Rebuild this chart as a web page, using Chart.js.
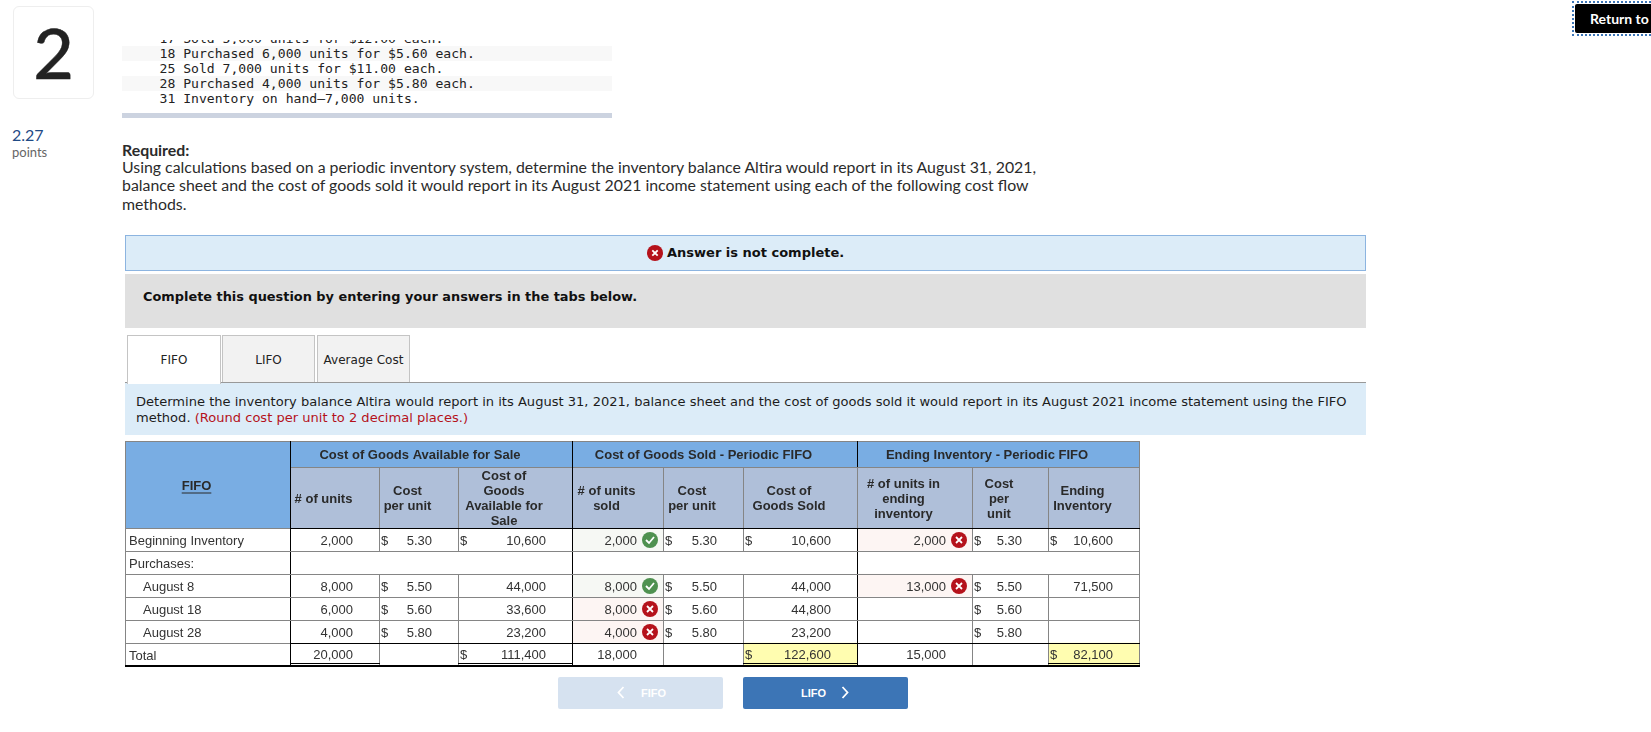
<!DOCTYPE html>
<html>
<head>
<meta charset="utf-8">
<title>FIFO</title>
<script src="https://cdn.jsdelivr.net/npm/chart.js@4"></script>
<style>
html, body { margin: 0; padding: 0; background: #fff; width: 1651px; height: 732px; overflow: hidden; }
.abs { position: absolute; white-space: nowrap; }
.box { position: absolute; box-sizing: border-box; }
.mono { font: 13.1px/15px "DejaVu Sans Mono", monospace; color: #222; left: 159.5px; }
.lato { font-family: Lato, sans-serif; color: #2b2b2b; font-size: 15.87px; line-height: 18px; left: 122px; }
.dv { font-family: "DejaVu Sans", sans-serif; color: #1c1c1c; font-size: 13.06px; line-height: 16px; }
.tab { position: absolute; box-sizing: border-box; top: 335px; height: 48px; border: 1px solid #c4c4c4; background: #f2f2f2;
  font: 12px/49px "DejaVu Sans", sans-serif; color: #222; text-align: center; }
.btn { position: absolute; top: 677px; height: 32px; border-radius: 2px; color: #fff; font: bold 11px/32px "Liberation Sans", sans-serif; }
canvas { position: absolute; left: 125px; }
</style>
</head>
<body>
<div class="box" style="left:13px;top:6px;width:81px;height:93px;border:1px solid #eee;border-radius:6px"></div>
<div class="abs" style="left:13px;width:81px;top:6px;text-align:center;font:500 70px/93px Lato,sans-serif;color:#222;-webkit-text-stroke:0.4px #222">2</div>
<div class="abs" style="left:12px;top:126px;font:16px/18px Lato,sans-serif;color:#1f4a85">2.27</div>
<div class="abs" style="left:12px;top:144px;font:13px/16px Lato,sans-serif;color:#666">points</div>

<div class="box" style="left:122px;top:46px;width:490px;height:15px;background:#f8f8f8"></div>
<div class="box" style="left:122px;top:76px;width:490px;height:15px;background:#f8f8f8"></div>
<div class="box" style="left:122px;top:113px;width:490px;height:5px;background:#ccd3e0"></div>
<div class="box" style="left:122px;top:40px;width:490px;height:4px;overflow:hidden">
  <div class="abs mono" style="left:37.5px;top:-9px">17 Sold 5,000 units for $12.00 each.</div>
</div>
<div class="abs mono" style="top:46px">18 Purchased 6,000 units for $5.60 each.</div>
<div class="abs mono" style="top:61px">25 Sold 7,000 units for $11.00 each.</div>
<div class="abs mono" style="top:76px">28 Purchased 4,000 units for $5.80 each.</div>
<div class="abs mono" style="top:91px">31 Inventory on hand–7,000 units.</div>

<div class="abs lato" style="top:141px;font-weight:700">Required:</div>
<div class="abs lato" style="top:158px">Using calculations based on a periodic inventory system, determine the inventory balance Altira would report in its August 31, 2021,</div>
<div class="abs lato" style="top:176px">balance sheet and the cost of goods sold it would report in its August 2021 income statement using each of the following cost flow</div>
<div class="abs lato" style="top:195px">methods.</div>

<div class="box" style="left:125px;top:235px;width:1241px;height:36px;background:#dcecf8;border:1px solid #8cb4e0"></div>
<svg class="abs" style="left:647px;top:245px" width="16" height="16" viewBox="0 0 16 16"><circle cx="8" cy="8" r="8" fill="#b5121b"/><path d="M5.3 5.3 10.7 10.7M10.7 5.3 5.3 10.7" stroke="#fff" stroke-width="1.8"/></svg>
<div class="abs dv" style="left:667px;top:245px;font-weight:700;font-size:13px;color:#111">Answer is not complete.</div>
<div class="box" style="left:125px;top:274px;width:1241px;height:54px;background:#e0e0e0"></div>
<div class="abs dv" style="left:143px;top:289px;font-weight:700;font-size:12.9px;color:#111">Complete this question by entering your answers in the tabs below.</div>

<div class="tab" style="left:222px;width:93px">LIFO</div>
<div class="tab" style="left:317px;width:93px">Average Cost</div>
<div class="box" style="left:125px;top:382px;width:1241px;height:53px;background:#dcecf8;border-top:1px solid #999"></div>
<div class="tab" style="left:127px;width:94px;height:49px;background:#fff;border-bottom:0;z-index:2">FIFO</div>
<div class="abs dv" style="left:136px;top:394px">Determine the inventory balance Altira would report in its August 31, 2021, balance sheet and the cost of goods sold it would report in its August 2021 income statement using the FIFO</div>
<div class="abs dv" style="left:136px;top:410px">method. <span style="color:#b5121b">(Round cost per unit to 2 decimal places.)</span></div>

<canvas id="groupHead" width="1016" height="28" style="top:441px"></canvas>
<canvas id="columnHead" width="1016" height="63" style="top:467px"></canvas>
<canvas id="tableBody" width="1016" height="140" style="top:528px"></canvas>

<div class="btn" style="left:558px;width:165px;background:#d6e2f0">
  <svg class="abs" style="left:59px;top:9px" width="8" height="13" viewBox="0 0 8 13"><path d="M6.5 1 1.5 6.5 6.5 12" fill="none" stroke="#fff" stroke-width="1.8"/></svg>
  <span class="abs" style="left:83px">FIFO</span></div>
<div class="btn" style="left:743px;width:165px;background:#3c75b6">
  <span class="abs" style="left:58px">LIFO</span>
  <svg class="abs" style="left:98px;top:9px" width="8" height="13" viewBox="0 0 8 13"><path d="M1.5 1 6.5 6.5 1.5 12" fill="none" stroke="#fff" stroke-width="1.8"/></svg></div>

<div class="box" style="left:1572px;top:1px;width:79px;height:35px;border:2px dotted #3c75b6;border-right:0"></div>
<div class="box" style="left:1575px;top:4px;width:76px;height:29px;background:#000;border-radius:2px 0 0 2px"></div>
<div class="abs" style="left:1590px;top:10px;font:700 14px/18px Lato,sans-serif;color:#fff">Return to</div>

<script>
// table values
const rowLabels = ['Beginning Inventory', 'Purchases:', 'August 8', 'August 18', 'August 28', 'Total'];
const groupLabels = ['Cost of Goods Available for Sale', 'Cost of Goods Sold - Periodic FIFO', 'Ending Inventory - Periodic FIFO'];
const columnLabels = [
    ['# of units'], ['Cost', 'per unit'], ['Cost of', 'Goods', 'Available for', 'Sale'],
    ['# of units', 'sold'], ['Cost', 'per unit'], ['Cost of', 'Goods Sold'],
    ['# of units in', 'ending', 'inventory'], ['Cost', 'per', 'unit'], ['Ending', 'Inventory']
];
const unitsAvailable = [2000, null, 8000, 6000, 4000, 20000];
const costAvailable = [5.30, null, 5.50, 5.60, 5.80, null];
const goodsAvailable = [10600, null, 44000, 33600, 23200, 111400];
const unitsSold = [2000, null, 8000, 8000, 4000, 18000];
const costSold = [5.30, null, 5.50, 5.60, 5.80, null];
const goodsSold = [10600, null, 44000, 44800, 23200, 122600];
const unitsEnding = [2000, null, 13000, null, null, 15000];
const costEnding = [5.30, null, 5.50, 5.60, 5.80, null];
const valueEnding = [10600, null, 71500, null, null, 82100];
const marksSold = ['ok', null, 'ok', 'bad', 'bad', null];
const marksEnding = ['bad', null, 'bad', null, null, null];

// layout of the grid, in pixels from the left of the table
const edges = [0, 165, 254, 333, 447, 538, 618, 732, 847, 923, 1014];
const majorEdges = [165, 447, 732];
const dollarRows = [0, 5];

const GRAY = '#858585', BLACK = '#000';
const columns = [
    {values: unitsAvailable},
    {values: costAvailable, cost: true},
    {values: goodsAvailable, dollars: dollarRows},
    {values: unitsSold, marks: marksSold},
    {values: costSold, cost: true},
    {values: goodsSold, dollars: dollarRows, highlight: true},
    {values: unitsEnding, marks: marksEnding},
    {values: costEnding, cost: true},
    {values: valueEnding, dollars: dollarRows, highlight: true}
];

function baseOptions() {
    return {
        responsive: false,
        animation: false,
        indexAxis: 'y',
        layout: {padding: {right: 2, bottom: 2}},
        plugins: {legend: {display: false}, tooltip: {enabled: false}},
        scales: {
            x: {type: 'linear', display: false, min: 0, max: 1014},
            y: {type: 'category', display: false}
        }
    };
}

function span(from, to, row, fill, extra) {
    return {
        data: [Object.assign({x: [edges[from], edges[to]], y: row}, extra)],
        backgroundColor: fill,
        borderWidth: 0,
        grouped: false,
        categoryPercentage: 1,
        barPercentage: 1
    };
}

function hline(chart, y, a, b, color) {
    let sx = chart.scales.x;
    let ctx = chart.ctx;
    ctx.fillStyle = color;
    ctx.fillRect(sx.getPixelForValue(a), y, sx.getPixelForValue(b) - sx.getPixelForValue(a) + 1, 1);
}

function vline(chart, x, y0, y1, color) {
    let ctx = chart.ctx;
    ctx.fillStyle = color;
    ctx.fillRect(chart.scales.x.getPixelForValue(x), y0, 1, y1 - y0);
}

// Writes the heading lines held on each bar
const headingText = {
    id: 'headingText',
    afterDatasetsDraw(chart) {
        let ctx = chart.ctx;
        ctx.save();
        ctx.fillStyle = '#2a2a2a';
        ctx.font = 'bold 13px "Liberation Sans"';
        ctx.textAlign = 'center';
        ctx.textBaseline = 'middle';
        chart.data.datasets.forEach((ds, d) => {
            let raw = ds.data[0];
            if (!raw.lines) return;
            let el = chart.getDatasetMeta(d).data[0];
            let cx = (chart.scales.x.getPixelForValue(raw.x[0]) + chart.scales.x.getPixelForValue(raw.x[1])) / 2 - 11;
            let top = el.y + (raw.dy || 0) - (raw.lines.length - 1) * 7.5;
            raw.lines.forEach((line, i) => {
                ctx.fillText(line, cx, top + i * 15 + 1.5);
                if (raw.underline) {
                    let w = ctx.measureText(line).width;
                    ctx.fillRect(cx - w / 2, top + i * 15 + 8, w, 1);
                }
            });
        });
        ctx.restore();
    }
};

function drawMark(ctx, x, y, kind) {
    ctx.fillStyle = kind == 'ok' ? '#4f9150' : '#b5121b';
    ctx.beginPath();
    ctx.arc(x, y, 8, 0, Math.PI * 2);
    ctx.fill();
    ctx.strokeStyle = '#fff';
    ctx.lineWidth = 1.8;
    ctx.beginPath();
    if (kind == 'ok') {
        ctx.moveTo(x - 4, y);
        ctx.lineTo(x - 1, y + 3);
        ctx.lineTo(x + 4, y - 3);
    } else {
        ctx.moveTo(x - 3, y - 3);
        ctx.lineTo(x + 3, y + 3);
        ctx.moveTo(x + 3, y - 3);
        ctx.lineTo(x - 3, y + 3);
    }
    ctx.stroke();
}

// Writes the cell contents at the position of each bar
const cellText = {
    id: 'cellText',
    afterDatasetsDraw(chart) {
        let ctx = chart.ctx;
        let sx = chart.scales.x;
        ctx.save();
        ctx.font = '13px "Liberation Sans"';
        ctx.textBaseline = 'middle';
        chart.data.datasets.forEach((ds, d) => {
            chart.getDatasetMeta(d).data.forEach((el, i) => {
                let raw = ds.data[i];
                let left = sx.getPixelForValue(raw.x[0]);
                let right = sx.getPixelForValue(raw.x[1]);
                let y = el.y + 1.5;
                ctx.fillStyle = '#333';
                if (raw.label) {
                    ctx.textAlign = 'left';
                    ctx.fillText(raw.label, left + (raw.indent ? 18 : 4), y);
                    return;
                }
                if (raw.value == null) return;
                if (i == 5) y -= 1;
                ctx.textAlign = 'right';
                let text = raw.cost ? raw.value.toFixed(2) : raw.value.toLocaleString('en-US');
                ctx.fillText(text, right - 26, y);
                if (raw.dollar) {
                    ctx.textAlign = 'left';
                    ctx.fillText('$', left + 2, y);
                }
                if (raw.mark) drawMark(ctx, right - 13, el.y + 0.5, raw.mark);
            });
        });
        ctx.restore();
    }
};

function verticals(chart, y0, y1, major) {
    edges.forEach(e => vline(chart, e, y0, y1, major.includes(e) ? BLACK : GRAY));
}

// top row: the three group headings
new Chart(document.getElementById('groupHead'), {
    type: 'bar',
    data: {
        labels: ['group'],
        datasets: [
            span(0, 1, 'group', '#79ade3'),
            span(1, 4, 'group', '#79ade3', {lines: [groupLabels[0]]}),
            span(4, 7, 'group', '#79ade3', {lines: [groupLabels[1]]}),
            span(7, 10, 'group', '#79ade3', {lines: [groupLabels[2]]})
        ]
    },
    options: baseOptions(),
    plugins: [headingText, {
        id: 'groupLines',
        afterDraw(chart) {
            hline(chart, 0, 0, 1014, GRAY);
            [0, 165, 447, 732, 1014].forEach(e => vline(chart, e, 0, 26, majorEdges.includes(e) ? BLACK : GRAY));
        }
    }]
});

// second row: the column headings
new Chart(document.getElementById('columnHead'), {
    type: 'bar',
    data: {
        labels: ['column'],
        datasets: [span(0, 1, 'column', '#79ade3', {lines: ['FIFO'], underline: true, dy: -13})]
            .concat(columnLabels.map((lines, c) => span(c + 1, c + 2, 'column', '#afbfd9', {lines: lines})))
    },
    options: baseOptions(),
    plugins: [headingText, {
        id: 'columnLines',
        afterDraw(chart) {
            hline(chart, 0, 165, 1014, GRAY);
            verticals(chart, 0, 61, [165, 447]);
        }
    }]
});

function cellFill(col, i) {
    if (i == 5) return col.highlight ? '#fffdb0' : '#fff';
    if (col.marks && col.marks[i] == 'ok') return '#f6f8f4';
    if (col.marks && col.marks[i] == 'bad') return '#fdf5f3';
    return '#fff';
}

// the body: one dataset per column, one bar per cell
const bodySets = [{
    data: rowLabels.map((label, i) => ({x: [edges[0], edges[1]], y: label, label: label, indent: i >= 2 && i <= 4})),
    backgroundColor: '#fff',
    borderWidth: 0,
    grouped: false,
    categoryPercentage: 1,
    barPercentage: 1
}].concat(columns.map((col, c) => ({
    data: rowLabels.map((label, i) => ({
        x: [edges[c + 1], edges[c + 2]],
        y: label,
        value: col.values[i],
        cost: !!col.cost,
        dollar: col.cost ? col.values[i] != null : !!(col.dollars && col.dollars.includes(i)),
        mark: col.marks ? col.marks[i] : null
    })),
    backgroundColor: rowLabels.map((label, i) => cellFill(col, i)),
    borderWidth: 0,
    grouped: false,
    categoryPercentage: 1,
    barPercentage: 1
})));

new Chart(document.getElementById('tableBody'), {
    type: 'bar',
    data: {labels: rowLabels, datasets: bodySets},
    options: baseOptions(),
    plugins: [{
        id: 'bodyLines',
        afterDatasetsDraw(chart) {
            let band = chart.chartArea.height / rowLabels.length;
            rowLabels.forEach((r, i) => {
                let top = chart.scales.y.getPixelForValue(i) - band / 2;
                if (i == 1) {
                    [0, 165, 447, 732, 1014].forEach(e => vline(chart, e, top, top + band, majorEdges.includes(e) ? BLACK : GRAY));
                } else {
                    verticals(chart, top, top + band, majorEdges);
                }
                hline(chart, top, 0, 165, GRAY);
                hline(chart, top, 165, 1014, i == 0 || i == 5 ? BLACK : GRAY);
            });
            let bottom = chart.chartArea.bottom;
            hline(chart, bottom - 1, 0, 1014, BLACK);
            hline(chart, bottom, 0, 1014, BLACK);
            [[1, 2], [3, 4], [6, 7], [9, 10]].forEach(p => hline(chart, bottom - 3, edges[p[0]], edges[p[1]], BLACK));
        }
    }, cellText]
});
</script>
</body>
</html>
